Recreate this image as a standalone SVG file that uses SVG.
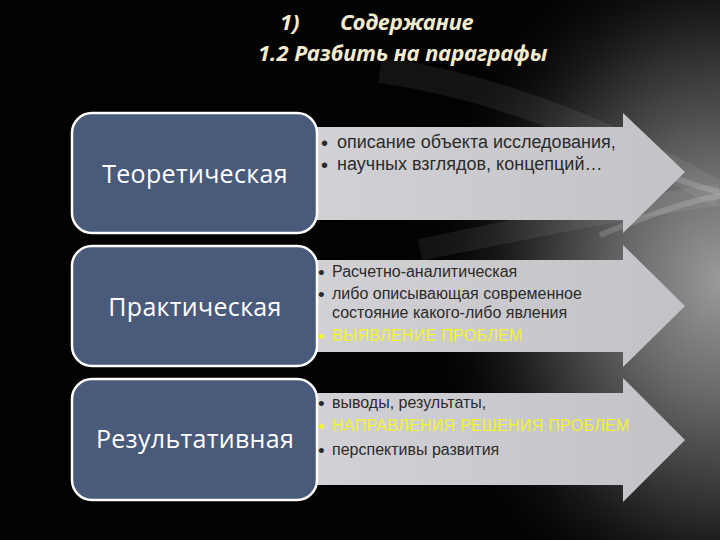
<svg xmlns="http://www.w3.org/2000/svg" width="720" height="540" viewBox="0 0 720 540">
<defs>
<radialGradient id="glow" cx="720" cy="280" r="360" gradientUnits="userSpaceOnUse" gradientTransform="translate(720 280) scale(0.85 1.05) translate(-720 -280)">
<stop offset="0" stop-color="#9a9a9a"/>
<stop offset="0.3" stop-color="#6a6a6a"/>
<stop offset="0.65" stop-color="#262626"/>
<stop offset="1" stop-color="#000" stop-opacity="0"/>
</radialGradient>
<linearGradient id="arrowFill" x1="0" y1="0" x2="1" y2="0">
<stop offset="0" stop-color="#d2d2d6"/>
<stop offset="1" stop-color="#c3c3c7"/>
</linearGradient>
<style>
.box{fill:#4a5a7a;stroke:#ffffff;stroke-width:2.5}
.arrow{fill:url(#arrowFill)}
.lbl{font-family:"Open Sans","Noto Sans","Liberation Sans",sans-serif;font-size:25px;letter-spacing:0.3px;fill:#ffffff;text-anchor:middle}
.t1{font-family:"Liberation Sans",Arial,sans-serif;font-size:18px;fill:#2b2b2b}
.t2{font-family:"Liberation Sans",Arial,sans-serif;font-size:16px;fill:#2b2b2b}
.b1{font-family:"Liberation Sans",sans-serif;font-size:20px;fill:#2b2b2b}
.b2{font-family:"Liberation Sans",sans-serif;font-size:19px;fill:#2b2b2b}
.y{fill:#f2f230;letter-spacing:0.3px}
.title{font-family:"Noto Sans","Open Sans","Liberation Sans",sans-serif;font-style:italic;font-weight:bold;font-size:22px;fill:#f3ebcf}
.swoosh{fill:none;stroke:#ffffff}
</style>
</defs>
<rect x="0" y="0" width="720" height="540" fill="#020202"/>
<rect x="0" y="0" width="720" height="540" fill="url(#glow)"/>
<path class="swoosh" d="M380 70 C520 90 640 150 720 195" stroke-opacity="0.07" stroke-width="26"/>
<path class="swoosh" d="M420 250 C540 225 640 205 720 195" stroke-opacity="0.07" stroke-width="22"/>
<path class="swoosh" d="M600 150 C650 170 690 185 720 192" stroke-opacity="0.16" stroke-width="6"/>
<path class="swoosh" d="M600 235 C650 215 690 200 720 196" stroke-opacity="0.16" stroke-width="6"/>

<g id="title">
<text class="title" x="280" y="30">1)</text>
<text class="title" x="340" y="30">Содержание</text>
<text class="title" x="258" y="61">1.2 Разбить на параграфы</text>
</g>

<g id="connectors">
<path class="arrow" d="M300 127 H623 V113 L685 172 L623 233 V220 H300 Z"/>
<path class="arrow" d="M300 260 H623 V245 L685 306 L623 367 V352 H300 Z"/>
<path class="arrow" d="M300 393 H623 V378 L685 440 L623 502 V485 H300 Z"/>
</g>

<g id="node1">
<rect class="box" x="72" y="113" width="245" height="120" rx="20"/>
<text class="lbl" x="195" y="183">Теоретическая</text>
</g>
<g id="node2">
<rect class="box" x="72" y="246" width="245" height="120" rx="20"/>
<text class="lbl" x="195" y="316">Практическая</text>
</g>
<g id="node3">
<rect class="box" x="72" y="379" width="245" height="121" rx="20"/>
<text class="lbl" x="195" y="448">Результативная</text>
</g>

<g id="text1">
<text class="b1" x="321" y="150">•</text><text class="t1" x="337" y="148">описание объекта исследования,</text>
<text class="b1" x="321" y="172">•</text><text class="t1" x="337" y="170">научных взглядов, концепций…</text>
</g>
<g id="text2">
<text class="b2" x="318" y="279">•</text><text class="t2" x="332" y="277">Расчетно-аналитическая</text>
<text class="b2" x="318" y="301">•</text><text class="t2" x="332" y="299">либо описывающая современное</text>
<text class="t2" x="332" y="318">состояние какого-либо явления</text>
<text class="b2 y" x="318" y="343">•</text><text class="t2 y" x="332" y="341">ВЫЯВЛЕНИЕ ПРОБЛЕМ</text>
</g>
<g id="text3">
<text class="b2" x="318" y="410">•</text><text class="t2" x="332" y="408">выводы, результаты,</text>
<text class="b2 y" x="318" y="433">•</text><text class="t2 y" x="332" y="431">НАПРАВЛЕНИЯ РЕШЕНИЯ ПРОБЛЕМ</text>
<text class="b2" x="318" y="457">•</text><text class="t2" x="332" y="455">перспективы развития</text>
</g>
</svg>
